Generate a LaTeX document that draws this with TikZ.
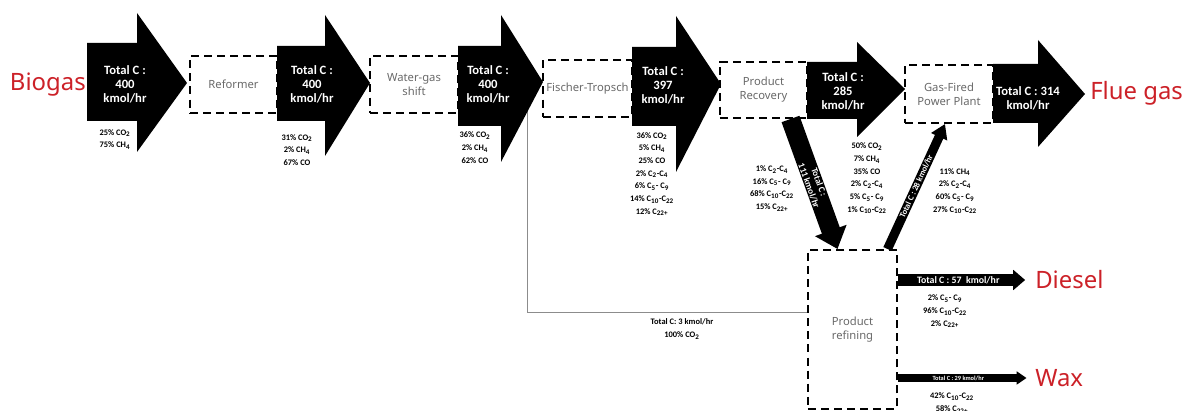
\documentclass[tikz,border=0pt]{standalone}
\usepackage{fontspec}
\setmainfont{Carlito}
\newfontfamily\labfont{Noto Sans}
\usetikzlibrary{arrows.meta,calc}

\definecolor{flowred}{RGB}{204,33,40}
\definecolor{boxgray}{RGB}{105,105,105}
\definecolor{linegray}{RGB}{140,140,140}

\newcommand{\lowr}[1]{\textsubscript{#1}}
% block arrow: tail x, head x, tip x, tip y, body top, body bottom, head top, head bottom
\newcommand{\bigflow}[8]{\fill (#1,#5) -- (#2,#5) -- (#2,#7) -- (#3,#4) -- (#2,#8) -- (#2,#6) -- (#1,#6) -- cycle;}

\tikzset{
  unit/.style={draw, line width=1.4pt, dash pattern=on 5.7pt off 3.6pt, inner sep=0pt, align=center, text=boxgray, font=\labfont\fontsize{8}{10}\selectfont},
  flowtxt/.style={text=white, align=center, inner sep=0pt, font=\bfseries\fontsize{9}{10}\selectfont},
  comp/.style={align=center, inner sep=0pt, font=\bfseries\fontsize{6}{9}\selectfont},
  stream/.style={text=flowred, inner sep=0pt, font=\labfont\fontsize{17}{20}\selectfont},
  fatflow/.style={line width=13.5pt, -{Triangle[width=23pt,length=14pt]}},
  slimflow/.style={line width=6.5pt, -{Triangle[width=12pt,length=10pt]}},
  dieselflow/.style={line width=8pt, shorten >=7pt, -{Triangle[width=14pt,length=8.5pt]}},
  waxflow/.style={line width=5pt, shorten >=6pt, -{Triangle[width=9pt,length=7pt]}}
}

\begin{document}
\begin{tikzpicture}[x=0.025cm, y=-0.025cm]
  \useasboundingbox (0,0) rectangle (1184,411);

  % process units
  \node[unit, minimum width=2.175cm, minimum height=1.425cm] (reform) at (233.5,84.5) {Reformer};
  \node[unit, minimum width=2.2cm, minimum height=1.425cm] (wgs) at (414,84.5) {Water-gas\\shift};
  \node[unit, minimum width=2.225cm, minimum height=1.425cm] (ft) at (587.5,88.5) {Fischer-Tropsch};
  \node[unit, minimum width=2.175cm, minimum height=1.4cm] (recov) at (763.5,90) {Product\\Recovery};
  \node[unit, minimum width=2.2cm, minimum height=1.45cm] (power) at (949,94) {Gas-Fired\\Power Plant};
  \node[unit, minimum width=2.225cm, minimum height=3.975cm] (refine) at (852.5,329.5) {Product\\refining};

  % CO2 bypass
  \coordinate (split) at (527,100);
  \coordinate (co2in) at ($(refine.west)+(0,-17.5)$);
  \draw[linegray, line width=0.7pt] (split) |- (co2in);

  % main line
  \bigflow{87}{137}{187}{83}{43}{121}{13}{152}
  \bigflow{277}{325}{370}{83}{46}{121}{15}{156}
  \bigflow{458}{501}{543}{82}{46}{126}{15}{162}
  \bigflow{632}{676}{721}{84}{47}{126}{16}{172}
  \bigflow{807}{857}{905}{89}{62}{119}{42}{137}
  \bigflow{993}{1038}{1085}{94}{64}{123}{40}{147}

  \node[flowtxt] (flow1) at (125,84) {Total C :\\400\\kmol/hr};
  \node[flowtxt] (flow2) at (312,84) {Total C :\\400\\kmol/hr};
  \node[flowtxt] (flow3) at (488,84) {Total C :\\400\\kmol/hr};
  \node[flowtxt] (flow4) at (663,85) {Total C :\\397\\kmol/hr};
  \node[flowtxt] (flow5) at (843,91) {Total C :\\285\\kmol/hr};
  \node[flowtxt] (flow6) at (1028,98) {Total C : 314\\kmol/hr};

  % stream labels
  \node[stream, anchor=east] (biogas) at (86,85) {Biogas};
  \node[stream, anchor=west] (flue) at (1090,93) {Flue gas};
  \node[stream, anchor=west] (diesel) at (1035,280) {Diesel};
  \node[stream, anchor=west] (wax) at (1035,378) {Wax};

  % compositions
  \node[comp] (comp1) at (115,139.5) {25\% CO\lowr{2}\\75\% CH\lowr{4}};
  \node[comp] (comp2) at (297,150) {31\% CO\lowr{2}\\2\% CH\lowr{4}\\67\% CO};
  \node[comp] (comp3) at (475,147.5) {36\% CO\lowr{2}\\2\% CH\lowr{4}\\62\% CO};
  \node[comp] (comp4) at (652,174) {36\% CO\lowr{2}\\5\% CH\lowr{4}\\25\% CO\\2\% C\lowr{2}-C\lowr{4}\\6\% C\lowr{5}- C\lowr{9}\\14\% C\lowr{10}-C\lowr{22}\\12\% C\lowr{22+}};
  \node[comp] (comp5) at (867,178.5) {50\% CO\lowr{2}\\7\% CH\lowr{4}\\35\% CO\\2\% C\lowr{2}-C\lowr{4}\\5\% C\lowr{5}- C\lowr{9}\\1\% C\lowr{10}-C\lowr{22}};
  \node[comp] (comp6) at (772,188.5) {1\% C\lowr{2}-C\lowr{4}\\16\% C\lowr{5}- C\lowr{9}\\68\% C\lowr{10}-C\lowr{22}\\15\% C\lowr{22+}};
  \node[comp] (comp7) at (955,191) {11\% CH\lowr{4}\\2\% C\lowr{2}-C\lowr{4}\\60\% C\lowr{5}- C\lowr{9}\\27\% C\lowr{10}-C\lowr{22}};
  \node[comp] (comp8) at (945,311.5) {2\% C\lowr{5}- C\lowr{9}\\96\% C\lowr{10}-C\lowr{22}\\2\% C\lowr{22+}};
  \node[comp] (comp9) at (952,403) {42\% C\lowr{10}-C\lowr{22}\\58\% C\lowr{22+}};
  \node[comp] (co2lbl) at (682,329) {Total C: 3 kmol/hr\\100\% CO\lowr{2}};

  % refining streams
  \draw[fatflow] ($(recov.south)+(27,0)$) -- node[sloped, flowtxt, font=\bfseries\fontsize{6.5}{7.5}\selectfont] {Total C :\\111 kmol/hr} ($(refine.north)+(-15,0)$);
  \draw[slimflow] ($(refine.north)+(35,0)$) -- node[sloped, flowtxt, font=\bfseries\fontsize{6}{7}\selectfont] {Total C : 28 kmol/hr} ($(power.south)+(-4,0)$);
  \draw[dieselflow] (refine.east |- diesel.west) -- node[pos=0.44, flowtxt, font=\bfseries\fontsize{7}{8}\selectfont] {Total C : 57~~kmol/hr} (diesel.west);
  \draw[waxflow] (refine.east |- wax.west) -- node[pos=0.44, flowtxt, font=\bfseries\fontsize{4.5}{5}\selectfont] {Total C : 29 kmol/hr} (wax.west);
\end{tikzpicture}
\end{document}
